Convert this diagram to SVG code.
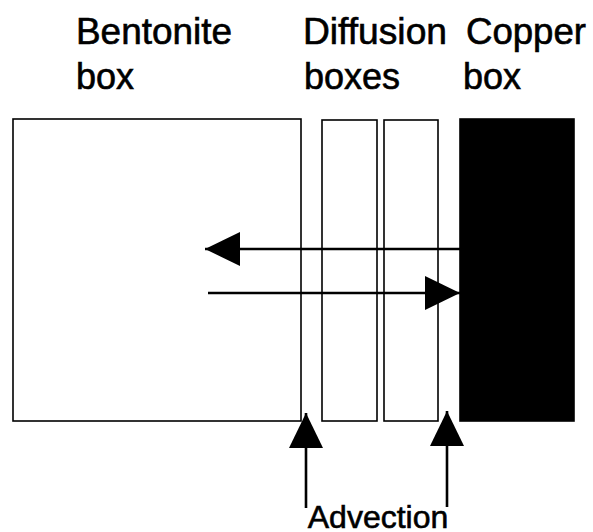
<svg xmlns="http://www.w3.org/2000/svg" width="593" height="532" viewBox="0 0 593 532">
  <style>
    .label { font-family: "Liberation Sans", Arial, Helvetica, sans-serif; font-size: 36px; fill: #000; stroke: #000; stroke-width: 0.6; }
    .box { fill: #fff; stroke: #000; stroke-width: 1.6; }
    .copper { fill: #000; stroke: #000; stroke-width: 1.6; }
    .flow { fill: none; stroke: #000; stroke-width: 2.6; marker-end: url(#head); }
  </style>
  <defs>
    <marker id="head" markerUnits="userSpaceOnUse" markerWidth="36" markerHeight="36" refX="35" refY="17" orient="auto">
      <path d="M0,0 L35,17 L0,34 Z" fill="#000"/>
    </marker>
  </defs>
  <rect width="593" height="532" fill="#fff"/>

  <!-- column headings -->
  <g id="headings">
    <text class="label" x="76" y="44" textLength="156" lengthAdjust="spacingAndGlyphs">Bentonite</text>
    <text class="label" x="76" y="89">box</text>
    <text class="label" x="303" y="44" textLength="144" lengthAdjust="spacingAndGlyphs">Diffusion</text>
    <text class="label" x="304" y="89">boxes</text>
    <text class="label" x="466" y="44" textLength="120" lengthAdjust="spacingAndGlyphs">Copper</text>
    <text class="label" x="463" y="89">box</text>
  </g>

  <g id="bentonite-box">
    <rect class="box" x="13" y="119" width="288" height="302"/>
  </g>
  <g id="diffusion-box-1">
    <rect class="box" x="322" y="120" width="55" height="301"/>
  </g>
  <g id="diffusion-box-2">
    <rect class="box" x="384" y="120" width="54" height="301"/>
  </g>
  <g id="copper-box">
    <rect class="copper" x="460" y="119" width="114" height="302"/>
  </g>

  <g id="connectors">
    <line class="flow" x1="460" y1="249" x2="205" y2="249"/>
    <line class="flow" x1="208" y1="293" x2="460" y2="293"/>
    <line class="flow" x1="306" y1="508" x2="306" y2="413"/>
    <line class="flow" x1="447" y1="507" x2="447" y2="411"/>
  </g>

  <g id="advection-label">
    <text class="label" x="378" y="528" text-anchor="middle" style="font-size:32px">Advection</text>
  </g>
</svg>
